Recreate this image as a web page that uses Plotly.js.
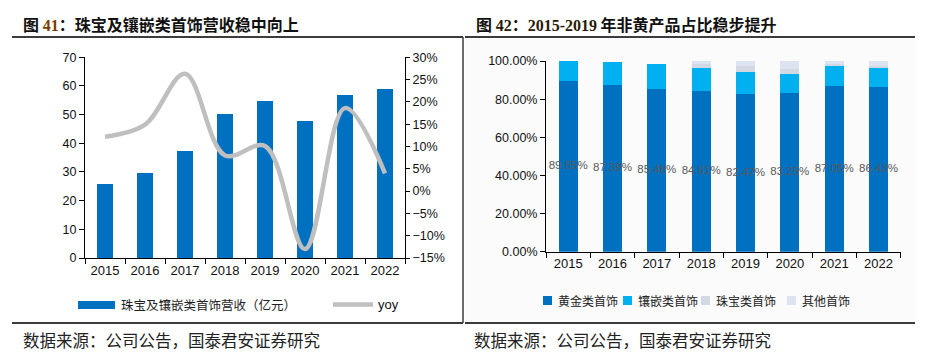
<!DOCTYPE html>
<html>
<head>
<meta charset="utf-8">
<script src="https://cdn.plot.ly/plotly-3.0.1.min.js"></script>
<style>html,body{margin:0;padding:0;background:#fff;}#chart{width:930px;height:354px;}</style>
</head>
<body>
<div id="chart"></div>
<script>
// ---- data ----
const years = ['2015','2016','2017','2018','2019','2020','2021','2022'];
const revenue = [25.7, 29.6, 37.4, 50.3, 54.9, 47.7, 56.7, 58.9];   // 亿元
const yoy = [12.2, 14.9, 26.3, 8.0, 10.1, -13.0, 18.6, 4.0];        // %
const gold = [89.55, 87.39, 85.48, 84.51, 82.47, 83.25, 87.05, 86.43];
const inlay = [10.45, 12.1, 13.1, 12.0, 11.9, 9.9, 10.2, 10.0];
const jewelry = [0, 0, 0, 2.0, 2.8, 2.8, 1.0, 1.2];
const other = [0, 0, 0, 1.5, 2.8, 4.0, 1.75, 2.37];
const shareTicks = [0, 20, 40, 60, 80, 100];
const leftNames = ['珠宝及镶嵌类首饰营收（亿元）', 'yoy'];
const rightNames = ['黄金类首饰', '镶嵌类首饰', '珠宝类首饰', '其他首饰'];
const titleLeft = '图 <span style="color:#7a3c00;font-family:\'Liberation Serif\'">41</span>：珠宝及镶嵌类首饰营收稳中向上';
const titleRight = '图 <span style="color:#2a1a05;font-family:\'Liberation Serif\'">42</span>：<span style="color:#2a1a05;font-family:\'Liberation Serif\'">2015-2019</span> 年非黄产品占比稳步提升';
const source = '数据来源：公司公告，国泰君安证券研究';

// ---- helpers ----
const W = 930, H = 354;
const px = v => v / W;
const py = v => 1 - v / H;
const CJK = '"Noto Sans CJK SC", sans-serif';
const NUM = '"Liberation Sans", Arial, sans-serif';
const cBlue = '#0070c0', cLight = '#00b0f0', cJew = '#d3d9e2', cOther = '#dce4f2', cGray = '#bfbfbf';
const rightColors = [cBlue, cLight, cJew, cOther];

const traces = [
  {type:'bar', x:years, y:revenue, xaxis:'x', yaxis:'y', marker:{color:cBlue}, width:0.4,
   name:leftNames[0], showlegend:false, hoverinfo:'x+y'},
  {type:'scatter', mode:'lines', x:years, y:yoy, xaxis:'x', yaxis:'y2',
   line:{color:cGray, width:4.5, shape:'spline', smoothing:1}, name:leftNames[1], showlegend:false},
  {type:'bar', x:years, y:gold, xaxis:'x3', yaxis:'y3', marker:{color:rightColors[0]}, width:0.43, name:rightNames[0], showlegend:false},
  {type:'bar', x:years, y:inlay, xaxis:'x3', yaxis:'y3', marker:{color:rightColors[1]}, width:0.43, name:rightNames[1], showlegend:false},
  {type:'bar', x:years, y:jewelry, xaxis:'x3', yaxis:'y3', marker:{color:rightColors[2]}, width:0.43, name:rightNames[2], showlegend:false},
  {type:'bar', x:years, y:other, xaxis:'x3', yaxis:'y3', marker:{color:rightColors[3]}, width:0.43, name:rightNames[3], showlegend:false},
  {type:'scatter', mode:'text', x:years, y:gold.map(v => v/2), text:gold.map(v => v.toFixed(2)+'%'),
   xaxis:'x3', yaxis:'y3', textfont:{family:NUM, size:11.5, color:'#595959'}, textposition:'middle center',
   cliponaxis:false, showlegend:false, hoverinfo:'skip'}
];

const axisCommon = {showline:true, linecolor:'#000', linewidth:1, ticks:'outside', ticklen:5, tickcolor:'#000',
  showgrid:false, zeroline:false, tickfont:{family:NUM, size:12.5, color:'#111'}, fixedrange:true};

const layout = {
  width:W, height:H, margin:{l:0, r:0, t:0, b:0},
  paper_bgcolor:'#fff', plot_bgcolor:'rgba(0,0,0,0)',
  barmode:'stack', showlegend:false,
  font:{family:NUM, color:'#111'},
  xaxis:Object.assign({}, axisCommon, {domain:[px(85), px(405)], anchor:'y', type:'category', tickson:'boundaries', tickfont:{family:NUM, size:13, color:'#111'}}),
  yaxis:Object.assign({}, axisCommon, {domain:[py(258), py(57.3)], anchor:'x', range:[0,70], dtick:10}),
  yaxis2:Object.assign({}, axisCommon, {overlaying:'y', side:'right', anchor:'x', range:[-15,30], dtick:5, ticksuffix:'%', ticklen:4}),
  xaxis3:Object.assign({}, axisCommon, {domain:[px(546), px(900.7)], anchor:'y3', type:'category', tickson:'boundaries', tickfont:{family:NUM, size:13, color:'#111'}}),
  yaxis3:Object.assign({}, axisCommon, {domain:[py(251.7), py(61)], anchor:'x3', range:[0,100], tickmode:'array',
    tickvals:shareTicks, ticktext:shareTicks.map(v => v.toFixed(2)+'%')}),
  shapes:[
    {type:'rect', xref:'paper', yref:'paper', x0:px(465), x1:px(915), y0:py(322), y1:py(38.5), fillcolor:'#fbfbfb', line:{width:0}, layer:'below'},
    {type:'line', xref:'paper', yref:'paper', x0:px(12), x1:px(463), y0:py(37), y1:py(37), line:{color:'#3c3c3c', width:2}},
    {type:'line', xref:'paper', yref:'paper', x0:px(465), x1:px(915), y0:py(37), y1:py(37), line:{color:'#3c3c3c', width:2}},
    {type:'line', xref:'paper', yref:'paper', x0:px(12), x1:px(463), y0:py(323), y1:py(323), line:{color:'#3c3c3c', width:2}},
    {type:'line', xref:'paper', yref:'paper', x0:px(465), x1:px(915), y0:py(323), y1:py(323), line:{color:'#3c3c3c', width:2}},
    {type:'line', xref:'paper', yref:'paper', x0:px(463), x1:px(463), y0:py(37), y1:py(323), line:{color:'#3c3c3c', width:1.5}},
    // left legend symbols
    {type:'rect', xref:'paper', yref:'paper', x0:px(78), x1:px(115), y0:py(309), y1:py(301), fillcolor:cBlue, line:{width:0}},
    {type:'line', xref:'paper', yref:'paper', x0:px(333), x1:px(373), y0:py(304.5), y1:py(304.5), line:{color:cGray, width:4.5}}
  ],
  annotations:[
    {xref:'paper', yref:'paper', x:px(21), y:py(24), xanchor:'left', yanchor:'middle', showarrow:false, text:titleLeft,
     font:{family:CJK, size:16, color:'#111', weight:'bold'}},
    {xref:'paper', yref:'paper', x:px(474), y:py(24), xanchor:'left', yanchor:'middle', showarrow:false, text:titleRight,
     font:{family:CJK, size:16, color:'#111', weight:'bold'}},
    {xref:'paper', yref:'paper', x:px(21), y:py(340), xanchor:'left', yanchor:'middle', showarrow:false, text:source,
     font:{family:CJK, size:16.5, color:'#222'}},
    {xref:'paper', yref:'paper', x:px(472), y:py(340), xanchor:'left', yanchor:'middle', showarrow:false, text:source,
     font:{family:CJK, size:16.5, color:'#222'}},
    {xref:'paper', yref:'paper', x:px(119), y:py(304.5), xanchor:'left', yanchor:'middle', showarrow:false, text:leftNames[0],
     font:{family:CJK, size:12.5, color:'#222'}},
    {xref:'paper', yref:'paper', x:px(376), y:py(304.5), xanchor:'left', yanchor:'middle', showarrow:false, text:leftNames[1],
     font:{family:NUM, size:13, color:'#111'}}
  ]
};

// right legend (symbols + names built from the series arrays)
const legX = [543, 623, 701, 787];
rightNames.forEach((n, i) => {
  layout.shapes.push({type:'rect', xref:'paper', yref:'paper', x0:px(legX[i]), x1:px(legX[i]+9), y0:py(305), y1:py(296),
    fillcolor:rightColors[i], line:{width:0}});
  layout.annotations.push({xref:'paper', yref:'paper', x:px(legX[i]+13), y:py(300.5), xanchor:'left', yanchor:'middle',
    showarrow:false, text:n, font:{family:CJK, size:12, color:'#222'}});
});

Plotly.newPlot('chart', traces, layout, {displayModeBar:false, staticPlot:true});
</script>
</body>
</html>
